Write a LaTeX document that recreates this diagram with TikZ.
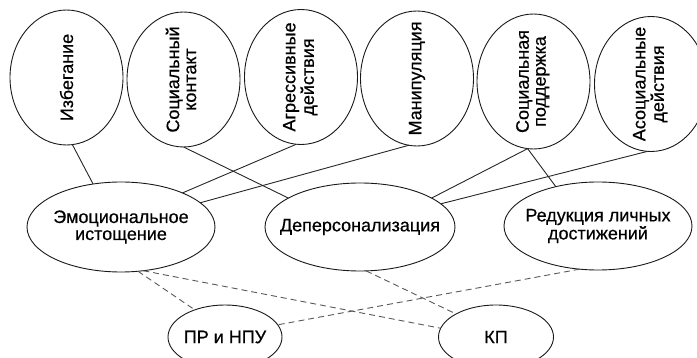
\documentclass[tikz,border=0pt]{standalone}
\usepackage{fontspec}
\setmainfont{Liberation Sans}[FakeBold=0.5]
\usetikzlibrary{shapes.geometric}
\begin{document}
\begin{tikzpicture}[x=1pt,y=-1pt,
  ell/.style={ellipse, draw=black!90, line width=0.9pt, inner sep=0pt, outer sep=0pt},
  topell/.style={ell, minimum width=113pt, minimum height=135pt},
  midell/.style={ell, minimum width=188pt, minimum height=90pt},
  botell/.style={ell, minimum width=114pt, minimum height=64pt},
  txt/.style={inner sep=0pt, align=center, font=\fontsize{18}{17}\selectfont, text=black},
  conn/.style={line width=0.9pt, draw=black!85},
  dconn/.style={line width=0.9pt, draw=black!65, dash pattern=on 6pt off 4pt}]
\useasboundingbox (0,0) rectangle (697,358);
% top ellipses
\node[topell] (A) at (66.5,77.5) {};
\node[topell] (B) at (183.5,79.5) {};
\node[topell] (C) at (301,77) {};
\node[topell] (D) at (417,78.5) {};
\node[topell] (E) at (533.5,81.5) {};
\node[topell] (F) at (651,84) {};
\node[txt] (At) at (A.center) {\rotatebox{90}{Избегание}};
\node[txt] (Bt) at (B.center) {\rotatebox{90}{\begin{tabular}{@{}c@{}}Социальный\\контакт\end{tabular}}};
\node[txt] (Ct) at (C.center) {\rotatebox{90}{\begin{tabular}{@{}c@{}}Агрессивные\\действия\end{tabular}}};
\node[txt] (Dt) at (D.center) {\rotatebox{90}{Манипуляция}};
\node[txt] (Et) at (E.center) {\rotatebox{90}{\begin{tabular}{@{}c@{}}Социальная\\поддержка\end{tabular}}};
\node[txt] (Ft) at (F.center) {\rotatebox{90}{\begin{tabular}{@{}c@{}}Асоциальные\\действия\end{tabular}}};
% middle ellipses
\node[midell] (M1) at (121,227) {};
\node[midell, minimum width=190pt, minimum height=88pt] (M2) at (360,227) {};
\node[midell, minimum height=88pt] (M3) at (598,226) {};
\node[txt] (M1t) at (M1.center) {Эмоциональное\\истощение};
\node[txt] (M2t) at (M2.center) {Деперсонализация};
\node[txt] (M3t) at (M3.center) {Редукция личных\\достижений};
% bottom ellipses
\node[botell] (P) at (225,337) {};
\node[botell, minimum width=115pt] (K) at (496,337) {};
\node[txt] (Pt) at (P.center) {ПР и НПУ};
\node[txt] (Kt) at (K.center) {КП};
% solid connectors
\draw[conn] (A.275.5) -- (M1.123.4);
\draw[conn] (B.270) -- (M2.158.3);
\draw[conn] (C.266.6) -- (M1.29.4);
\draw[conn] (D.263.2) -- (M1.17.6);
\draw[conn] (E.265.3) -- (M2.22.3);
\draw[conn] (E.265.3) -- (M3.137.1);
\draw[conn] (F.267.3) -- (M2.16.3);
% dashed connectors
\draw[dconn] (M1.291) -- (P.138.7);
\draw[dconn] (M1.297) -- (K.171.2);
\draw[dconn] (M2.278.8) -- (K.150.3);
\draw[dconn] (M3.247.8) -- (P.13.6);
\end{tikzpicture}
\end{document}
